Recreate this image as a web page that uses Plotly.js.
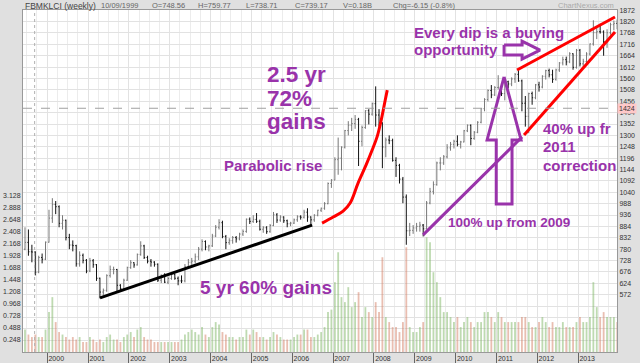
<!DOCTYPE html>
<html><head><meta charset="utf-8">
<script src="https://cdn.plot.ly/plotly-3.0.1.min.js"></script>
<style>html,body{margin:0;padding:0;background:#e0e0e0;}#chart{width:640px;height:363px;}</style>
</head><body><div id="chart"></div>
<script>
// ---- data (monthly) ----
const months = [
'1999-06','1999-07','1999-08','1999-09','1999-10','1999-11','1999-12',
'2000-01','2000-02','2000-03','2000-04','2000-05','2000-06','2000-07','2000-08','2000-09','2000-10','2000-11','2000-12',
'2001-01','2001-02','2001-03','2001-04','2001-05','2001-06','2001-07','2001-08','2001-09','2001-10','2001-11','2001-12',
'2002-01','2002-02','2002-03','2002-04','2002-05','2002-06','2002-07','2002-08','2002-09','2002-10','2002-11','2002-12',
'2003-01','2003-02','2003-03','2003-04','2003-05','2003-06','2003-07','2003-08','2003-09','2003-10','2003-11','2003-12',
'2004-01','2004-02','2004-03','2004-04','2004-05','2004-06','2004-07','2004-08','2004-09','2004-10','2004-11','2004-12',
'2005-01','2005-02','2005-03','2005-04','2005-05','2005-06','2005-07','2005-08','2005-09','2005-10','2005-11','2005-12',
'2006-01','2006-02','2006-03','2006-04','2006-05','2006-06','2006-07','2006-08','2006-09','2006-10','2006-11','2006-12',
'2007-01','2007-02','2007-03','2007-04','2007-05','2007-06','2007-07','2007-08','2007-09','2007-10','2007-11','2007-12',
'2008-01','2008-02','2008-03','2008-04','2008-05','2008-06','2008-07','2008-08','2008-09','2008-10','2008-11','2008-12',
'2009-01','2009-02','2009-03','2009-04','2009-05','2009-06','2009-07','2009-08','2009-09','2009-10','2009-11','2009-12',
'2010-01','2010-02','2010-03','2010-04','2010-05','2010-06','2010-07','2010-08','2010-09','2010-10','2010-11','2010-12',
'2011-01','2011-02','2011-03','2011-04','2011-05','2011-06','2011-07','2011-08','2011-09','2011-10','2011-11','2011-12',
'2012-01','2012-02','2012-03','2012-04','2012-05','2012-06','2012-07','2012-08','2012-09','2012-10','2012-11','2012-12',
'2013-01','2013-02','2013-03','2013-04','2013-05','2013-06','2013-07','2013-08','2013-09','2013-10','2013-11','2013-12'];

const openP = [
780,811,768,767,675,742,734,
812,922,984,974,898,912,833,799,796,713,752,729,
680,727,709,647,584,592,659,687,687,615,600,638,
696,718,708,756,795,742,725,721,711,638,659,629,
646,664,647,635,635,700,720,725,745,780,815,790,
795,840,880,901,838,810,819,833,827,849,861,917,
907,916,907,871,878,860,888,937,913,927,910,896,
899,914,928,926,949,927,914,935,958,967,988,1080,
1096,1189,1196,1246,1322,1346,1354,1373,1273,1336,1413,1397,
1445,1393,1357,1247,1279,1276,1186,1163,1100,1018,864,866,
877,884,890,873,991,1044,1075,1174,1174,1202,1243,1259,
1273,1259,1270,1321,1346,1286,1314,1360,1422,1464,1505,1485,
1519,1520,1491,1545,1535,1558,1579,1549,1447,1387,1491,1472,
1531,1521,1570,1596,1577,1556,1599,1631,1646,1636,1673,1611,
1689,1627,1637,1672,1718,1769,1774,1773,1728,1769,1806,1812];

const highP = [
880,870,800,770,750,760,815,
960,1013,1000,980,935,915,850,820,800,770,760,735,
740,735,712,650,600,665,705,700,690,620,645,700,
730,720,760,816,800,750,735,725,715,665,670,655,
675,668,655,660,712,735,740,760,790,825,820,800,
850,890,917,910,845,830,840,840,855,870,920,925,
935,945,915,885,885,895,950,945,935,930,915,905,
920,935,935,960,967,930,940,960,970,995,1085,1100,
1200,1290,1250,1325,1365,1380,1393,1380,1345,1415,1420,1450,
1524,1420,1360,1290,1300,1285,1200,1170,1110,1030,900,890,
900,905,895,1000,1060,1090,1180,1200,1210,1260,1270,1280,
1300,1275,1325,1350,1350,1320,1365,1425,1470,1510,1530,1525,
1575,1530,1550,1550,1565,1585,1598,1555,1480,1495,1500,1535,
1545,1575,1600,1605,1600,1605,1635,1660,1660,1680,1675,1695,
1695,1650,1680,1720,1826,1800,1810,1780,1785,1815,1825,1830];

const lowP = [
775,750,720,660,670,715,730,
810,900,940,880,870,820,780,770,700,700,715,670,
675,695,635,555,570,585,650,665,585,590,595,635,
690,695,705,750,735,715,700,700,630,625,625,620,
640,640,615,625,628,690,700,715,730,770,775,770,
790,835,870,830,780,800,805,810,820,840,855,895,
900,900,865,855,850,855,885,900,905,900,880,885,
895,905,915,920,905,888,905,930,950,960,985,1060,
1095,1120,1140,1240,1300,1320,1330,1160,1250,1330,1350,1390,
1340,1340,1150,1200,1260,1180,1110,1080,990,800,840,850,
860,860,838,870,985,1030,1070,1140,1165,1195,1230,1240,
1250,1240,1268,1315,1255,1280,1310,1355,1410,1455,1470,1480,
1510,1480,1460,1515,1525,1540,1545,1410,1340,1310,1440,1465,
1500,1515,1555,1565,1540,1550,1590,1620,1620,1630,1600,1605,
1615,1610,1625,1665,1710,1740,1765,1664,1700,1760,1780,1785];

const closeP = [
811,768,767,675,742,734,812,
922,984,974,898,912,833,799,796,713,752,729,680,
727,709,647,584,592,659,687,687,615,600,638,696,
718,708,756,795,742,725,721,711,638,659,629,646,
664,647,635,635,700,720,725,745,780,815,790,795,
840,880,901,838,810,819,833,827,849,861,917,907,
916,907,871,878,860,888,937,913,927,910,896,899,
914,928,926,949,927,914,935,958,967,988,1080,1096,
1189,1196,1246,1322,1346,1354,1373,1273,1336,1413,1397,1445,
1393,1357,1247,1279,1276,1186,1163,1100,1018,864,866,877,
884,890,873,991,1044,1075,1174,1174,1202,1243,1259,1273,
1259,1270,1321,1346,1286,1314,1360,1422,1464,1505,1485,1519,
1520,1491,1545,1535,1558,1579,1549,1447,1387,1491,1472,1531,
1521,1570,1596,1577,1556,1599,1631,1646,1636,1673,1611,1689,
1627,1637,1672,1718,1769,1774,1773,1728,1769,1806,1812,1805];

// typical weekly volume (billions of units)
const volume = [
0.45,0.35,0.30,0.35,0.30,0.30,0.45,
0.80,1.10,0.60,0.40,0.35,0.30,0.25,0.30,0.25,0.30,0.20,0.20,
0.30,0.25,0.20,0.25,0.20,0.30,0.35,0.25,0.25,0.20,0.30,0.35,
0.40,0.30,0.45,0.50,0.30,0.25,0.25,0.20,0.20,0.20,0.20,0.20,
0.20,0.20,0.20,0.25,0.35,0.40,0.45,0.40,0.35,0.50,0.35,0.30,
0.50,0.60,0.55,0.40,0.35,0.30,0.30,0.25,0.30,0.30,0.45,0.35,
0.45,0.40,0.30,0.30,0.25,0.30,0.40,0.35,0.30,0.25,0.25,0.25,
0.30,0.35,0.35,0.45,0.45,0.30,0.30,0.35,0.40,0.50,0.80,0.85,
1.40,2.00,1.10,1.00,1.30,0.90,1.00,1.20,0.70,0.90,0.80,0.70,
1.00,0.80,1.90,0.70,0.60,0.50,0.50,0.40,0.60,2.10,0.50,0.40,
0.40,0.50,0.60,2.30,2.20,1.60,1.40,1.10,0.80,0.80,0.70,0.60,
0.70,0.50,0.60,0.70,0.60,0.50,0.60,0.60,0.80,0.80,0.70,0.60,
0.80,0.70,0.60,0.60,0.60,0.60,0.60,0.70,0.70,0.60,0.50,0.50,
0.60,0.70,0.60,0.50,0.60,0.50,0.50,0.60,0.50,0.50,0.50,0.60,
0.70,0.60,0.60,0.70,1.40,0.90,0.70,0.80,0.70,0.70,0.70,0.60];

const priceTicks = [572,624,676,728,780,832,884,936,988,1040,1092,1144,1196,1248,1300,1352,1404,1456,1508,1560,1612,1664,1716,1768,1820,1872];
const volumeTicks = [0.248,0.488,0.728,0.968,1.208,1.448,1.688,1.928,2.168,2.408,2.648,2.888,3.128];

// hand-drawn annotation lines
const blackLineX = ['2001-04-17','2006-06-27'];
const blackLineY = [557, 890];
const redCurveX = ['2006-09-24','2007-01-01','2007-03-31','2007-06-02','2007-08-12','2007-10-23','2007-12-16','2008-01-29','2008-03-06','2008-04-11','2008-04-29'];
const redCurveY = [899, 927, 954, 991, 1082, 1165, 1233, 1293, 1370, 1462, 1507];
const redUpperX = ['2011-07-04','2013-11-26'];
const redUpperY = [1599, 1841];
const redLowerX = ['2011-09-05','2013-11-26'];
const redLowerY = [1302, 1772];
const purpleLineX = ['2009-03-16','2011-08-18'];
const purpleLineY = [845, 1293];
const upArrowX = ['2011-03-10','2011-08-09','2011-05-20','2011-05-20','2010-12-30','2010-12-30','2010-10-09','2011-03-10'];
const upArrowY = [1567, 1279, 1279, 986, 986, 1279, 1279, 1567];
const rightArrowX = ['2011-03-10','2011-08-18','2011-08-18','2012-01-25','2011-08-18','2011-08-18','2011-03-10','2011-03-10'];
const rightArrowY = [1713, 1713, 1731, 1690, 1649, 1667, 1667, 1713];

const crossDate = '1999-09-10';
const crossPrice = 1424;

// ---- styling ----
const PURPLE = '#9933aa';
const RED = '#ff0000';
const FONT = 'Liberation Sans, Arial, sans-serif';

const volColors = closeP.map((c, i) => c >= openP[i] ? 'rgba(125,182,100,0.5)' : 'rgba(212,125,100,0.5)');

const traces = [
  {type:'bar', x: months, y: volume, xperiod:'M1', xperiodalignment:'middle',
   marker:{color: volColors, line:{width:0}}, yaxis:'y', hoverinfo:'skip'},
  {type:'ohlc', x: months, open: openP, high: highP, low: lowP, close: closeP,
   xperiod:'M1', xperiodalignment:'middle', yaxis:'y2', tickwidth:0.3,
   increasing:{line:{color:'#777', width:1}}, decreasing:{line:{color:'#111', width:1}}, hoverinfo:'skip'},
  {type:'scatter', mode:'lines', x: blackLineX, y: blackLineY, yaxis:'y2', line:{color:'#000', width:3}, hoverinfo:'skip'},
  {type:'scatter', mode:'lines', x: redCurveX, y: redCurveY, yaxis:'y2', line:{color:RED, width:3, shape:'spline'}, hoverinfo:'skip'},
  {type:'scatter', mode:'lines', x: redUpperX, y: redUpperY, yaxis:'y2', line:{color:RED, width:3}, hoverinfo:'skip'},
  {type:'scatter', mode:'lines', x: redLowerX, y: redLowerY, yaxis:'y2', line:{color:RED, width:3}, hoverinfo:'skip'},
  {type:'scatter', mode:'lines', x: purpleLineX, y: purpleLineY, yaxis:'y2', line:{color:PURPLE, width:3}, hoverinfo:'skip'},
  {type:'scatter', mode:'lines', x: upArrowX, y: upArrowY, yaxis:'y2', line:{color:PURPLE, width:3}, hoverinfo:'skip'},
  {type:'scatter', mode:'lines', x: rightArrowX, y: rightArrowY, yaxis:'y2', line:{color:PURPLE, width:3}, hoverinfo:'skip'}
];

// pixel helpers for text placement (plot area: x 23..617, y 10..352)
const PX = x => (x - 23) / 594;
const PY = y => (352 - y) / 342;

function txt(text, x, y, size, opts) {
  return Object.assign({text: text, xref:'paper', yref:'paper', x: PX(x), y: PY(y), xanchor:'left', yanchor:'middle',
    showarrow:false, font:{family: FONT, size: size, color: PURPLE, weight: 'bold'}}, opts || {});
}
function hdr(text, x, size, color, anchor) {
  return {text: text, xref:'paper', yref:'paper', x: PX(x), y: PY(5.5), xanchor: anchor || 'left', yanchor:'middle',
    showarrow:false, font:{family: FONT, size: size, color: color}};
}

const annotations = [
  hdr('FBMKLCI (weekly)', 23, 8.5, '#444'),
  hdr('10/09/1999', 99, 7.5, '#666'),
  hdr('O=748.56', 150, 7.5, '#666'),
  hdr('H=759.77', 196, 7.5, '#666'),
  hdr('L=738.71', 244, 7.5, '#666'),
  hdr('C=739.17', 293, 7.5, '#666'),
  hdr('V=0.18B', 341, 7.5, '#666'),
  hdr('Chg=-6.15 (-0.8%)', 391, 7.5, '#666'),
  hdr('ChartNexus.com', 616, 7.5, '#aaa', 'right'),
  txt('2.5 yr', 265, 75, 22.5),
  txt('72%', 265, 99, 22.5),
  txt('gains', 265, 121, 22.5),
  txt('Parabolic rise', 222, 165, 15),
  txt('5 yr 60% gains', 198, 287, 19),
  txt('100% up from 2009', 446, 222, 13.5),
  txt('Every dip is a buying', 412, 32, 15),
  txt('opportunity', 412, 49, 15),
  txt('40% up fr', 541, 128, 15),
  txt('2011', 541, 147, 15),
  txt('correction', 541, 165, 15),
  {text: String(crossPrice), xref:'paper', yref:'y2', x: 1.0, y: crossPrice, xanchor:'left', yanchor:'middle',
   showarrow:false, bgcolor:'#ffc8c8', borderpad:1, font:{family: FONT, size: 7, color:'#333'}}
];

const shapes = [
  {type:'line', xref:'x', yref:'paper', x0: crossDate, x1: crossDate, y0: 0, y1: 1, line:{color:'#b0b0b0', width:1, dash:'dot'}},
  {type:'line', xref:'paper', yref:'y2', x0: 0, x1: 1, y0: crossPrice, y1: crossPrice, line:{color:'#a0a0a0', width:1, dash:'dash'}}
];

const layout = {
  width: 640, height: 363,
  margin: {l: 23, r: 23, t: 10, b: 11, pad: 0},
  paper_bgcolor: '#e0e0e0', plot_bgcolor: '#ffffff',
  showlegend: false, bargap: 0.45,
  font: {family: FONT, size: 7, color: '#333'},
  xaxis: {
    type: 'date', range: ['1999-05-29', '2013-12-14'],
    tick0: '2000-01-01', dtick: 'M12', tickformat: '%Y',
    ticks: 'outside', ticklen: 10, tickcolor: '#666', tickwidth: 1,
    ticklabelshift: 9, ticklabelstandoff: -10,
    tickfont: {size: 7, color: '#333'},
    showgrid: true, gridcolor: '#e2e2e2', gridwidth: 1,
    minor: {dtick: 'M3', showgrid: true, gridcolor: '#ececec', gridwidth: 1},
    showline: true, linecolor: '#999', linewidth: 1, mirror: true,
    zeroline: false, rangeslider: {visible: false}, fixedrange: true
  },
  yaxis: {
    range: [0, 6.858], side: 'left', tickmode: 'array', tickvals: volumeTicks, tickformat: '.3f',
    ticks: '', tickfont: {size: 7, color: '#333'}, showgrid: false, zeroline: false,
    showline: true, linecolor: '#999', linewidth: 1, fixedrange: true
  },
  yaxis2: {
    overlaying: 'y', side: 'right', range: [310, 1873],
    tickmode: 'array', tickvals: priceTicks, ticks: '',
    tickfont: {size: 7, color: '#333'},
    showgrid: true, gridcolor: '#e2e2e2', gridwidth: 1,
    minor: {tick0: 572, dtick: 52, showgrid: true, gridcolor: '#e2e2e2', gridwidth: 1},
    zeroline: false, showline: true, linecolor: '#999', linewidth: 1, fixedrange: true
  },
  annotations: annotations,
  shapes: shapes
};

Plotly.newPlot('chart', traces, layout, {displayModeBar: false, staticPlot: true});
</script>
</body></html>
